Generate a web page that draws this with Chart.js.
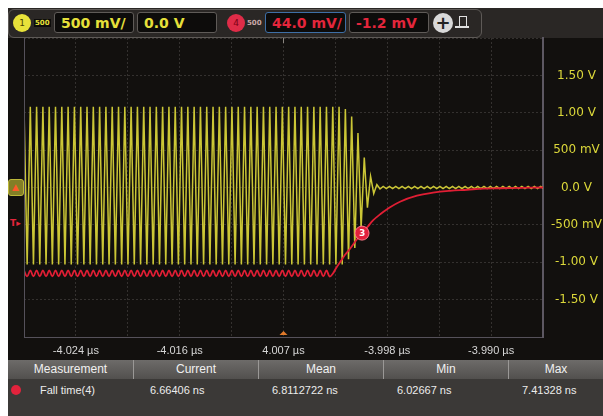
<!DOCTYPE html>
<html lang="en">
<head>
    <meta charset="UTF-8">
    <title>Fall time measurement</title>
    <script src="https://cdn.jsdelivr.net/npm/chart.js"></script>
    <style>
        body { margin: 0; background: #ffffff; }
        #scope { position: relative; width: 603px; height: 416px; overflow: hidden; background: #ffffff; font-family: 'DejaVu Sans', sans-serif; }
        .abs { position: absolute; }
        #screen { left: 8px; top: 8px; width: 595px; height: 352px; background: #12100e; }
        #topbar { left: 8px; top: 8px; width: 595px; height: 30px; background: #2a2725; }
        #toolbar { left: 8px; top: 9px; width: 472px; height: 27px; border: 1px solid #5e5a57; border-radius: 6px; }
        .dot { width: 18px; height: 18px; border-radius: 50%; font-size: 9px; line-height: 18px; text-align: center; }
        .tiny { font-size: 7px; font-weight: bold; top: 19px; }
        .box { top: 12px; height: 21px; border: 1px solid #5f5b58; border-radius: 3px; background: #0d0c0b;
               font-weight: bold; font-size: 14px; line-height: 21px; padding-left: 6px; box-sizing: border-box; }
        .yel { color: #e6e03a; }
        .red { color: #e4263c; }
        #chart { position: absolute; left: 0; top: 0; z-index: 1; }
        #thead { left: 8px; top: 360px; width: 595px; height: 19px; background: linear-gradient(#6d6b69, #52504e); z-index: 2; }
        #trow { left: 8px; top: 379px; width: 595px; height: 37px; background: #3b3937; z-index: 2; }
        .th { top: 0; height: 19px; line-height: 19px; text-align: center; color: #f0f0f0;
              font-family: 'Liberation Sans', sans-serif; font-size: 12px; border-right: 1px solid #9a9896; box-sizing: border-box; }
        .td { top: 5px; color: #ececec; font-family: 'Liberation Sans', sans-serif; font-size: 11px; }
    </style>
</head>
<body>
<div id="scope">
    <div class="abs" id="screen"></div>
    <div class="abs" id="topbar"></div>
    <div class="abs" id="toolbar"></div>

    <!-- channel 1 -->
    <div class="abs dot" style="left:13px; top:14px; background:#e8e23a; color:#4a4600;">1</div>
    <div class="abs tiny yel" style="left:34px; background:#0d0c0b; padding:0 1px;">500</div>
    <div class="abs box yel" style="left:54px; width:80px;">500 mV/</div>
    <div class="abs box yel" style="left:137px; width:80px;">0.0 V</div>

    <!-- channel 4 -->
    <div class="abs dot" style="left:227px; top:14px; background:#df2c48; color:#7a0016;">4</div>
    <div class="abs tiny" style="left:247px; color:#c8a8a8;">500</div>
    <div class="abs box red" style="left:265px; width:81px; border-color:#3e6fa6;">44.0 mV/</div>
    <div class="abs box red" style="left:349px; width:80px;">-1.2 mV</div>

    <div class="abs dot" style="left:433px; top:13px; width:20px; height:20px; line-height:20px; background:#d9d9d9; color:#222; font-size:18px; font-weight:bold;">+</div>
    <div class="abs" style="left:459px; top:16px; width:6px; height:9px; border:1.5px solid #e0e0e0; border-bottom:none;"></div>
    <div class="abs" style="left:455px; top:26px; width:14px; height:1.5px; background:#e0e0e0;"></div>

    <!-- left markers -->
    <div class="abs" style="left:8px; top:179px; width:16px; height:17px; background:#837f26; border:1px solid #bdb83a; border-radius:3px; box-sizing:border-box;"></div>
    <div class="abs" style="left:12px; top:182px; color:#ff5a2a; font-size:9px; font-weight:bold;">&#9650;</div>
    <div class="abs red" style="left:10px; top:218px; font-size:9px; font-weight:bold;">T&#9656;</div>

    <canvas id="chart" width="603" height="416"></canvas>

    <div class="abs" id="thead">
        <div class="abs th" style="left:0; width:126px;">Measurement</div>
        <div class="abs th" style="left:126px; width:125px;">Current</div>
        <div class="abs th" style="left:251px; width:125px;">Mean</div>
        <div class="abs th" style="left:376px; width:125px;">Min</div>
        <div class="abs th" style="left:501px; width:94px; border-right:none;">Max</div>
    </div>
    <div class="abs" id="trow">
        <div class="abs" style="left:3px; top:6px; width:10px; height:10px; border-radius:50%; background:#e2233c;"></div>
        <div class="abs td" style="left:32px;">Fall time(4)</div>
        <div class="abs td" style="left:142px;">6.66406 ns</div>
        <div class="abs td" style="left:264px;">6.8112722 ns</div>
        <div class="abs td" style="left:389px;">6.02667 ns</div>
        <div class="abs td" style="left:514px;">7.41328 ns</div>
    </div>
</div>
<script>
    // horizontal: 10 divisions, time labels under every other one
    const nsPerDiv = 4.25;
    const xTickLabels = ['', '-4.024 µs', '', '-4.016 µs', '', '4.007 µs', '', '-3.998 µs', '', '-3.990 µs', ''];
    // vertical: channel 1 scale, 500 mV/div
    const yTickLabels = ['', '-1.50 V', '-1.00 V', '-500 mV', '0.0 V', '500 mV', '1.00 V', '1.50 V', ''];

    // both channels, one sample every half cycle of the burst (ns)
    const sampleNs = 0.258;

    // channel 1 (yellow) burst, ring-down, then idle at 0 V
    const ch1Volts = [
        1.08, -1.03, 1.08, -1.03, 1.08, -1.03, 1.08, -1.03, 1.08, -1.03,
        1.08, -1.03, 1.08, -1.03, 1.08, -1.03, 1.08, -1.03, 1.08, -1.03,
        1.08, -1.03, 1.08, -1.03, 1.08, -1.03, 1.08, -1.03, 1.08, -1.03,
        1.08, -1.03, 1.08, -1.03, 1.08, -1.03, 1.08, -1.03, 1.08, -1.03,
        1.08, -1.03, 1.08, -1.03, 1.08, -1.03, 1.08, -1.03, 1.08, -1.03,
        1.08, -1.03, 1.08, -1.03, 1.08, -1.03, 1.08, -1.03, 1.08, -1.03,
        1.08, -1.03, 1.08, -1.03, 1.08, -1.03, 1.08, -1.03, 1.08, -1.03,
        1.08, -1.03, 1.08, -1.03, 1.08, -1.03, 1.08, -1.03, 1.08, -1.03,
        1.08, -1.03, 1.08, -1.03, 1.08, -1.03, 1.08, -1.03, 1.08, -1.03,
        1.08, -1.03, 1.08, -1.03, 1.08, -1.03, 1.08, -1.03, 1.08, -1.03,
        1.08, -1.03, 1.05, -0.96, 0.95, -0.81, 0.73, -0.54, 0.40, -0.27,
        0.15, -0.08, 0.04, -0.02,
        0.015, -0.015, 0.015, -0.015, 0.015, -0.015, 0.015, -0.015, 0.015, -0.015,
        0.015, -0.015, 0.015, -0.015, 0.015, -0.015, 0.015, -0.015, 0.015, -0.015,
        0.015, -0.015, 0.015, -0.015, 0.015, -0.015, 0.015, -0.015, 0.015, -0.015,
        0.015, -0.015, 0.015, -0.015, 0.015, -0.015, 0.015, -0.015, 0.015, -0.015,
        0.015, -0.015, 0.015, -0.015, 0.015, -0.015, 0.015, -0.015, 0.015, -0.015,
        0.015, -0.015
    ];

    // channel 4 (red) ripple before the edge, drawn in channel 1 volts
    const ch4Ripple = [
        -1.11, -1.19, -1.11, -1.19, -1.11, -1.19, -1.11, -1.19, -1.11, -1.19,
        -1.11, -1.19, -1.11, -1.19, -1.11, -1.19, -1.11, -1.19, -1.11, -1.19,
        -1.11, -1.19, -1.11, -1.19, -1.11, -1.19, -1.11, -1.19, -1.11, -1.19,
        -1.11, -1.19, -1.11, -1.19, -1.11, -1.19, -1.11, -1.19, -1.11, -1.19,
        -1.11, -1.19, -1.11, -1.19, -1.11, -1.19, -1.11, -1.19, -1.11, -1.19,
        -1.11, -1.19, -1.11, -1.19, -1.11, -1.19, -1.11, -1.19, -1.11, -1.19,
        -1.11, -1.19, -1.11, -1.19, -1.11, -1.19, -1.11, -1.19, -1.11, -1.19,
        -1.11, -1.19, -1.11, -1.19, -1.11, -1.19, -1.11, -1.19, -1.11, -1.19,
        -1.11, -1.19, -1.11, -1.19, -1.11, -1.19, -1.11, -1.19, -1.11, -1.19,
        -1.11, -1.19, -1.11, -1.19, -1.11, -1.19, -1.11, -1.19
    ];
    // channel 4 edge, read point by point
    const ch4EdgeNs = [25.3, 25.55, 25.88, 26.29, 26.70, 27.19, 27.68, 28.17, 28.58, 29.15,
                       29.73, 30.79, 32.18, 33.49, 34.88, 36.28, 37.59, 38.98, 40.62, 42.5];
    const ch4EdgeV = [-1.15, -1.08, -1.00, -0.90, -0.82, -0.71, -0.61, -0.52, -0.44, -0.36,
                      -0.29, -0.19, -0.11, -0.07, -0.045, -0.03, -0.015, -0.01, -0.005, 0];
    const fallMarkerIndex = 6;

    const ch1Points = ch1Volts.map((v, i) => ({ x: i * sampleNs, y: v }));
    const ch4Points = ch4Ripple.map((v, i) => ({ x: i * sampleNs, y: v }))
        .concat(ch4EdgeNs.map((t, i) => ({ x: t, y: ch4EdgeV[i] })));

    // frame line, trigger marks and the measurement marker
    const scopeMarks = {
        id: 'scopeMarks',
        afterDatasetsDraw(chart) {
            const { ctx, chartArea: a, scales: { x, y } } = chart;
            ctx.save();
            ctx.strokeStyle = '#55515a';
            ctx.lineWidth = 1;
            ctx.beginPath();
            ctx.moveTo(a.left + 0.5, a.top);
            ctx.lineTo(a.left + 0.5, a.bottom);
            ctx.stroke();

            // trigger position
            const tx = x.getPixelForValue(5 * nsPerDiv);
            ctx.fillStyle = '#e07a2a';
            ctx.beginPath();
            ctx.moveTo(tx - 4, a.bottom - 2);
            ctx.lineTo(tx, a.bottom - 6);
            ctx.lineTo(tx + 4, a.bottom - 2);
            ctx.closePath();
            ctx.fill();
            ctx.fillStyle = '#8a8680';
            ctx.fillRect(tx - 0.5, a.top, 1, 5);

            // fall time marker
            const mx = x.getPixelForValue(ch4EdgeNs[fallMarkerIndex]);
            const my = y.getPixelForValue(ch4EdgeV[fallMarkerIndex]);
            ctx.beginPath();
            ctx.arc(mx, my, 7, 0, Math.PI * 2);
            ctx.fillStyle = '#e2203c';
            ctx.fill();
            ctx.strokeStyle = '#ff7b8a';
            ctx.stroke();
            ctx.fillStyle = '#ffffff';
            ctx.font = 'bold 9px "DejaVu Sans"';
            ctx.textAlign = 'center';
            ctx.textBaseline = 'middle';
            ctx.fillText('3', mx, my + 0.5);
            ctx.restore();
        }
    };

    new Chart(document.getElementById('chart'), {
        type: 'line',
        data: {
            datasets: [
                { label: 'Ch4', data: ch4Points, borderColor: '#e01e34', borderWidth: 1.8,
                  pointRadius: 0, tension: 0.4, order: 0 },
                { label: 'Ch1', data: ch1Points, borderColor: '#cbc636', borderWidth: 1.5,
                  pointRadius: 0, tension: 0, order: 1 }
            ]
        },
        options: {
            responsive: false,
            animation: false,
            events: [],
            layout: { padding: { left: 24, top: 38, right: 0, bottom: 56 } },
            plugins: { legend: { display: false }, tooltip: { enabled: false } },
            scales: {
                x: {
                    type: 'linear',
                    min: 0,
                    max: 10 * nsPerDiv,
                    afterBuildTicks: s => { s.ticks = xTickLabels.map((_, i) => ({ value: i * nsPerDiv })); },
                    afterFit: s => { s.height = 23; },
                    ticks: {
                        autoSkip: false, maxRotation: 0, padding: 7,
                        color: '#d6d6d6',
                        font: { family: 'Liberation Sans', size: 11 },
                        callback: (v, i) => xTickLabels[i]
                    },
                    grid: { color: '#34312f', drawTicks: false },
                    border: { display: true, color: '#55515a', width: 1, dash: [2, 2] }
                },
                y: {
                    position: 'right',
                    min: -2,
                    max: 2,
                    afterFit: s => { s.width = 60; },
                    ticks: {
                        stepSize: 0.5, autoSkip: false, padding: 8, crossAlign: 'center',
                        color: '#dcd83a',
                        font: { family: 'DejaVu Sans', size: 12 },
                        callback: (v, i) => yTickLabels[i]
                    },
                    grid: { color: '#34312f', drawTicks: false },
                    border: { display: true, color: '#5d5862', width: 2, dash: [2, 2] }
                }
            }
        },
        plugins: [scopeMarks]
    });
</script>
</body>
</html>
